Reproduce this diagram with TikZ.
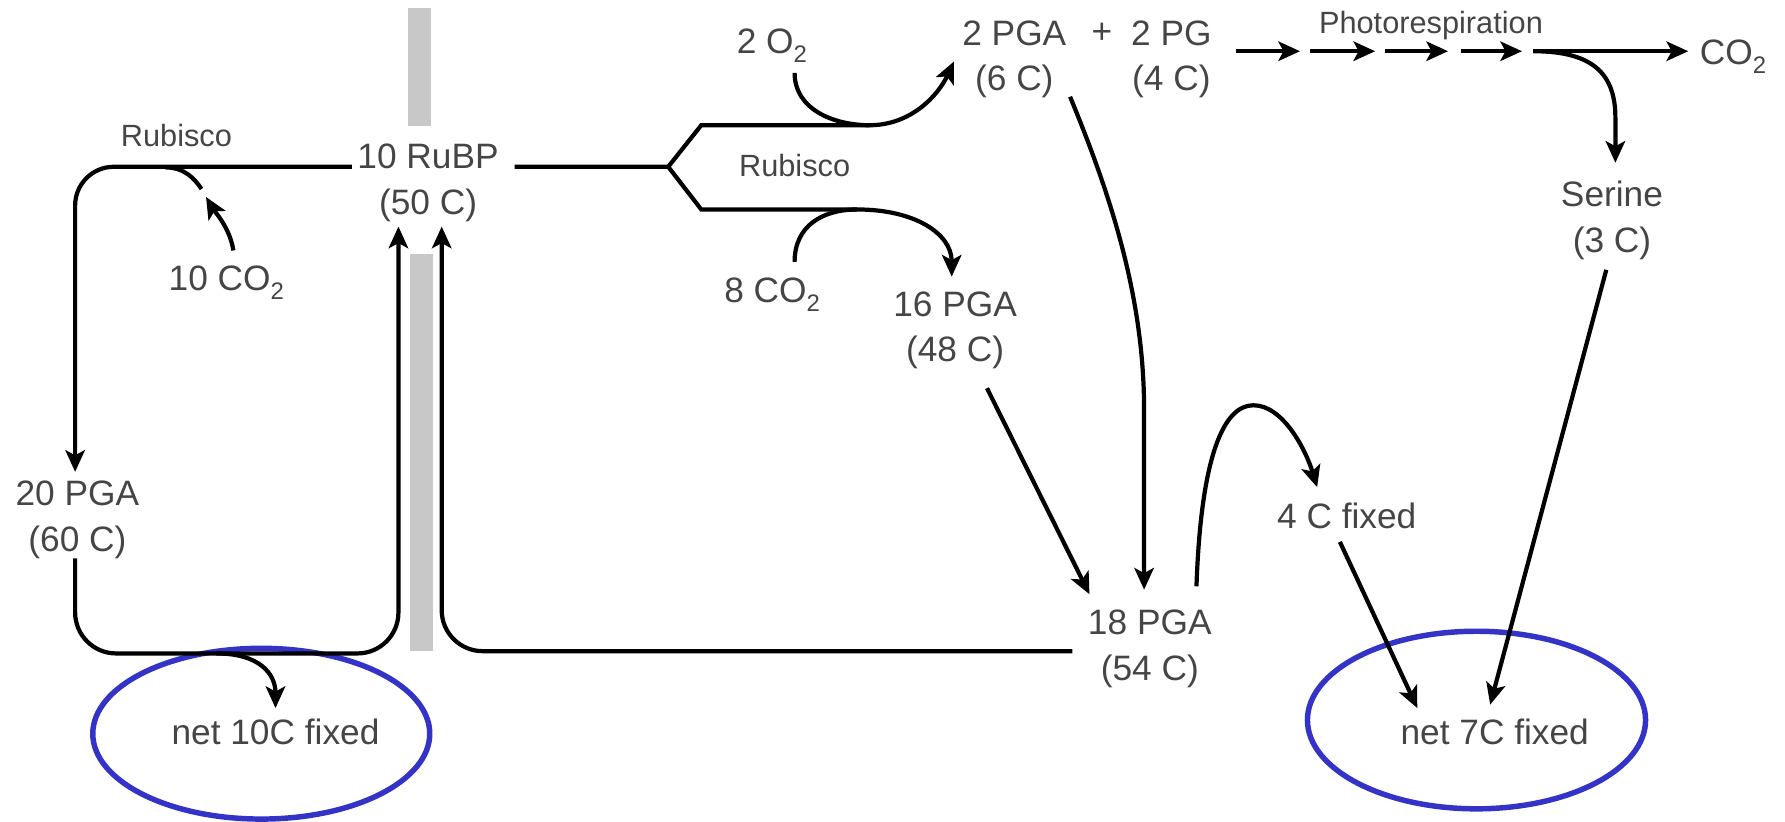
\documentclass[tikz,border=0pt]{standalone}
\usepackage{fontspec}
\setmainfont{Liberation Sans}
\usetikzlibrary{arrows.meta,calc,shapes.geometric}
\definecolor{txt}{rgb}{0.27,0.27,0.27}
\definecolor{ringblue}{RGB}{51,51,200}
\definecolor{barc}{RGB}{200,200,200}
\newcommand{\subtwo}{\raisebox{-8pt}{\fontsize{21}{21}\selectfont 2}}
\begin{document}
\begin{tikzpicture}[x=1pt,y=-1pt,
  lbl/.style={font=\fontsize{31}{40}\selectfont, text=txt, inner sep=0pt, align=center},
  sgl/.style={font=\fontsize{31}{40}\selectfont, text=txt, inner sep=0pt},
  sml/.style={font=\fontsize{27}{32}\selectfont, text=txt, inner sep=0pt},
  ln/.style={line width=3.7pt, black},
  arr/.style={ln, -{Stealth[length=19pt,width=17pt,inset=4.5pt]}},
  ring/.style={draw=ringblue, line width=4.8pt, ellipse, inner sep=0pt}]
\useasboundingbox (0,0) rectangle (1568,722);

% membrane bars
\fill[barc] (358,7) rectangle (379,111);
\fill[barc] (360,223) rectangle (380,572);

% labels
\node[sml, anchor=base] (rubL) at (155,129) {Rubisco};
\node[lbl] (rubp) at (376,160.5) {10 RuBP\\(50 C)};
\node[sgl, anchor=base west] (co2a) at (148,255) {10 CO\subtwo};
\node[lbl] (pga20) at (68,456.5) {20 PGA\\(60 C)};
\node[sgl, anchor=base] (net10) at (242,654) {net 10C fixed};
\node[ring, minimum width=296pt, minimum height=150pt] (ring10) at (229.5,644.5) {};
\node[sgl, anchor=base west] (o2) at (647,47) {2 O\subtwo};
\node[sml, anchor=base] (rubM) at (698,155) {Rubisco};
\node[sgl, anchor=base west] (co2b) at (636,266) {8 CO\subtwo};
\node[lbl] (pga16) at (839,290) {16 PGA\\(48 C)};
\node[lbl] (pga2) at (891,52) {2 PGA\\(6 C)};
\node[sgl, anchor=base] (plus) at (968,38) {+};
\node[lbl] (pg2) at (1029,52) {2 PG\\(4 C)};
\node[sml, anchor=base] (photo) at (1257,29) {Photorespiration};
\node[sgl, anchor=base west] (co2c) at (1493,57) {CO\subtwo};
\node[lbl] (serine) at (1416,193.5) {Serine\\(3 C)};
\node[lbl] (pga18) at (1010,570) {18 PGA\\(54 C)};
\node[sgl, anchor=base] (fix4) at (1183,464) {4 C fixed};
\node[sgl, anchor=base] (net7) at (1313,654) {net 7C fixed};
\node[ring, minimum width=297pt, minimum height=156pt] (ring7) at (1297,632.5) {};

% junction coordinates
\coordinate (bottomrun) at (200,574);
\coordinate (branch) at (587,146.5);
\coordinate (o2low) at (764,110);
\coordinate (co2top) at (753,184);
\coordinate (pr) at ($(pg2)+(57,-7)$);

% Calvin cycle (left)
\draw[arr, rounded corners=34pt] ($(rubp)+(-67,-14)$) -| ($(pga20)+(-2,-42)$);
\draw[arr, rounded corners=36pt] ($(pga20)+(-2,34)$) |- (bottomrun) -| ($(rubp)+(-26,38.5)$);
\draw[arr, rounded corners=36pt] ($(pga18)+(-68,2)$) -| ($(rubp)+(12,38.5)$);
\draw[arr] ($(bottomrun)+(-10,0)$) .. controls +(38,0) and +(0,-30) .. ($(net10.base)+(0,-32)$);
\draw[ln] ($(rubL.base)+(-10,18)$) .. controls +(17,0) and +(-6,-9) .. ($(rubL.base)+(22,37)$);
\draw[arr] ($(co2a.base west)+(57,-35)$) .. controls +(-3,-20) and +(7,12) .. ($(rubL.base)+(26,44)$);

% Rubisco branch (right)
\draw[ln] ($(rubp)+(76,-14)$) -- (branch) -- ++(29,-36.5) -- (o2low);
\draw[ln] (branch) -- ++(29,37.5) -- (co2top);
\draw[arr] ($(o2.base west)+(51,17)$) .. controls +(0,32) and +(-32,0) .. (o2low)
  .. controls +(36,0) and +(-14,30) .. ($(pga2)+(-53,2)$);
\draw[arr] ($(co2b.base west)+(62,-36)$) .. controls +(0,-32) and +(-30,0) .. (co2top)
  .. controls +(50,0) and +(0,-38) .. ($(pga16)+(-3,-47)$);
\draw[arr] ($(pga2)+(49,33)$) .. controls +(35,85) and +(0,-100) .. ($(pga18)+(-5,-210)$) -- ($(pga18)+(-5,-52)$);
\draw[arr] ($(pga16)+(28,51)$) -- ($(pga18)+(-53,-48)$);
\draw[arr] ($(pga18)+(41,-55)$) .. controls +(4,-115) and +(-26,0) .. ($(fix4.base)+(-82,-108)$)
  .. controls +(26,0) and +(-10,-33) .. ($(fix4.base)+(-26,-36)$);
\draw[arr] ($(fix4.base)+(-6,12)$) -- ($(net7.base)+(-68,-32)$);
\draw[arr] ($(serine)+(-5,43.5)$) -- ($(net7.base)+(-4,-35)$);

% Photorespiration chain
\draw[arr] (pr) -- ++(56,0);
\draw[arr] ($(pr)+(65,0)$) -- ++(57,0);
\draw[arr] ($(pr)+(131,0)$) -- ++(55,0);
\draw[arr] ($(pr)+(197,0)$) -- ++(54,0);
\draw[arr] ($(pr)+(261,0)$) -- ($(co2c.base west)+(-10,-12)$);
\draw[arr] ($(pr)+(261,0)$) .. controls +(53,0) and +(0,-38) .. ($(serine)+(3,-90)$) -- ($(serine)+(3,-50.5)$);
\end{tikzpicture}
\end{document}
